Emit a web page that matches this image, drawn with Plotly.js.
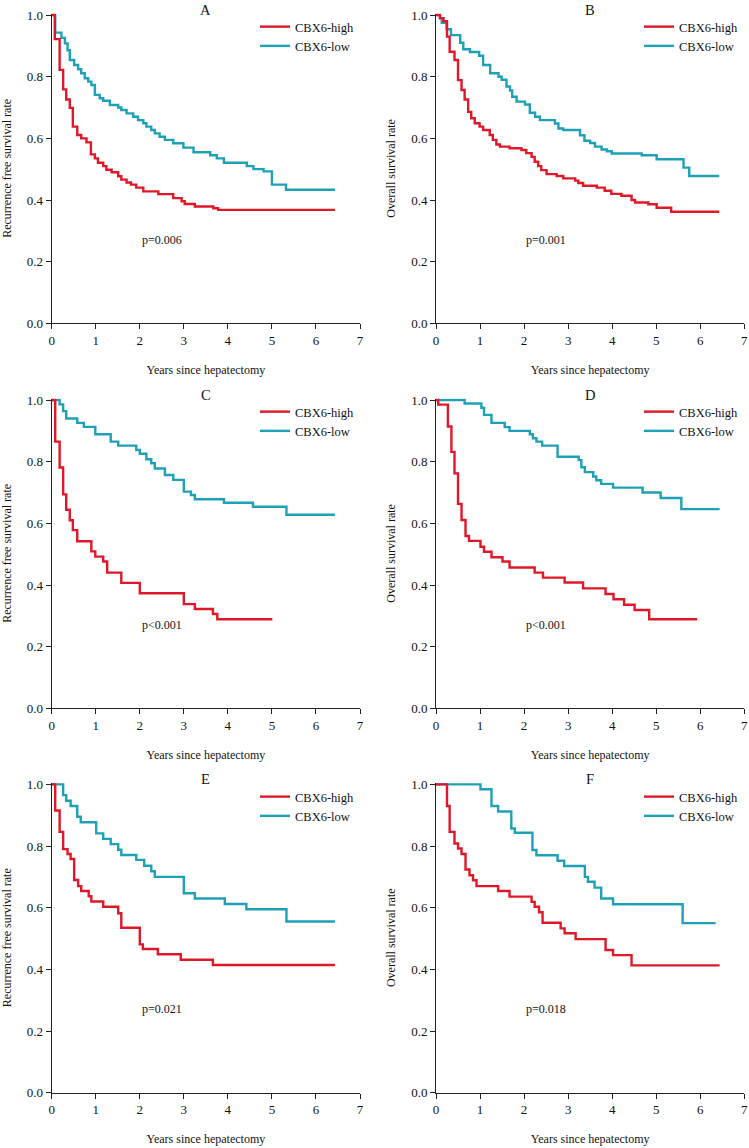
<!DOCTYPE html>
<html>
<head>
<meta charset="utf-8">
<script src="https://cdn.plot.ly/plotly-3.0.1.min.js"></script>
<style>
  body { margin: 0; background: #fff; }
  #plot { width: 749px; height: 1148px; }
</style>
</head>
<body>
<div id="plot"></div>
<script>
// Kaplan-Meier step points (time in years, survival)
var aHighT = [0, 0.07, 0.18, 0.26, 0.33, 0.41, 0.48, 0.58, 0.67, 0.79, 0.89, 0.98, 1.05, 1.17, 1.24, 1.36, 1.51, 1.58, 1.70, 1.80, 1.92, 2.08, 2.42, 2.76, 2.95, 3.02, 3.25, 3.67, 3.78, 6.43];
var aHighS = [1, 0.922, 0.822, 0.759, 0.726, 0.699, 0.638, 0.611, 0.600, 0.587, 0.548, 0.535, 0.521, 0.510, 0.498, 0.490, 0.477, 0.466, 0.457, 0.450, 0.440, 0.428, 0.419, 0.406, 0.396, 0.387, 0.379, 0.373, 0.368, 0.368];
var aLowT = [0, 0.08, 0.22, 0.30, 0.36, 0.41, 0.51, 0.60, 0.67, 0.75, 0.83, 0.90, 0.98, 1.09, 1.17, 1.32, 1.51, 1.58, 1.70, 1.85, 1.96, 2.08, 2.15, 2.26, 2.34, 2.45, 2.57, 2.76, 2.99, 3.22, 3.60, 3.75, 3.91, 4.43, 4.58, 4.81, 5.0, 5.32, 6.43];
var aLowS = [1, 0.943, 0.926, 0.908, 0.886, 0.854, 0.838, 0.824, 0.811, 0.795, 0.784, 0.773, 0.741, 0.730, 0.722, 0.708, 0.700, 0.692, 0.681, 0.670, 0.659, 0.649, 0.638, 0.627, 0.616, 0.605, 0.595, 0.584, 0.570, 0.555, 0.545, 0.535, 0.521, 0.510, 0.500, 0.493, 0.450, 0.433, 0.433];

var bHighT = [0, 0.09, 0.17, 0.25, 0.31, 0.42, 0.50, 0.58, 0.65, 0.73, 0.80, 0.88, 0.99, 1.07, 1.22, 1.29, 1.37, 1.45, 1.67, 1.94, 2.05, 2.17, 2.24, 2.32, 2.39, 2.51, 2.74, 2.89, 3.16, 3.23, 3.34, 3.65, 3.83, 3.98, 4.21, 4.44, 4.52, 4.82, 5.01, 5.34, 6.43];
var bHighS = [1, 0.99, 0.98, 0.93, 0.881, 0.854, 0.789, 0.757, 0.726, 0.686, 0.665, 0.649, 0.638, 0.627, 0.611, 0.595, 0.580, 0.573, 0.568, 0.562, 0.552, 0.540, 0.524, 0.510, 0.497, 0.484, 0.478, 0.470, 0.463, 0.455, 0.446, 0.440, 0.430, 0.420, 0.414, 0.400, 0.392, 0.386, 0.375, 0.362, 0.362];
var bLowT = [0, 0.09, 0.13, 0.24, 0.34, 0.55, 0.62, 0.77, 0.98, 1.07, 1.23, 1.42, 1.49, 1.60, 1.68, 1.73, 1.83, 2.02, 2.13, 2.25, 2.36, 2.70, 2.78, 2.89, 3.27, 3.37, 3.50, 3.61, 3.76, 3.88, 3.99, 4.67, 5.01, 5.62, 5.75, 6.43];
var bLowS = [1, 0.99, 0.975, 0.954, 0.935, 0.91, 0.889, 0.88, 0.868, 0.838, 0.811, 0.80, 0.79, 0.768, 0.755, 0.735, 0.719, 0.71, 0.683, 0.67, 0.659, 0.648, 0.632, 0.627, 0.61, 0.592, 0.585, 0.573, 0.564, 0.558, 0.551, 0.545, 0.532, 0.505, 0.478, 0.478];

var cHighT = [0, 0.08, 0.18, 0.26, 0.33, 0.41, 0.48, 0.58, 0.90, 0.99, 1.17, 1.26, 1.58, 2.0, 3.0, 3.25, 3.66, 3.76, 5.01];
var cHighS = [1, 0.865, 0.781, 0.694, 0.644, 0.610, 0.578, 0.542, 0.509, 0.492, 0.476, 0.440, 0.407, 0.373, 0.338, 0.322, 0.306, 0.289, 0.289];
var cLowT = [0, 0.18, 0.26, 0.33, 0.58, 0.73, 0.99, 1.34, 1.51, 1.92, 2.0, 2.15, 2.26, 2.34, 2.57, 2.76, 3.0, 3.16, 3.25, 3.91, 4.57, 5.33, 6.43];
var cLowS = [1, 0.986, 0.964, 0.940, 0.926, 0.913, 0.889, 0.865, 0.852, 0.838, 0.826, 0.808, 0.795, 0.778, 0.757, 0.741, 0.703, 0.692, 0.678, 0.667, 0.654, 0.628, 0.628];

var dHighT = [0, 0.05, 0.27, 0.35, 0.42, 0.50, 0.58, 0.67, 0.75, 1.01, 1.09, 1.26, 1.51, 1.67, 2.24, 2.43, 2.92, 3.34, 3.85, 4.03, 4.27, 4.51, 4.84, 5.93];
var dHighS = [1, 0.985, 0.914, 0.832, 0.762, 0.663, 0.611, 0.559, 0.543, 0.524, 0.508, 0.490, 0.476, 0.457, 0.440, 0.424, 0.408, 0.389, 0.371, 0.354, 0.336, 0.319, 0.289, 0.289];
var dLowT = [0, 0.65, 1.03, 1.09, 1.26, 1.56, 1.67, 2.13, 2.20, 2.28, 2.41, 2.76, 3.24, 3.30, 3.38, 3.57, 3.64, 3.75, 4.02, 4.69, 5.10, 5.57, 6.44];
var dLowS = [1, 0.989, 0.975, 0.952, 0.926, 0.912, 0.90, 0.889, 0.876, 0.865, 0.852, 0.816, 0.805, 0.782, 0.766, 0.752, 0.74, 0.728, 0.716, 0.70, 0.682, 0.646, 0.646];

var eHighT = [0, 0.08, 0.18, 0.26, 0.36, 0.43, 0.51, 0.60, 0.67, 0.84, 0.90, 1.17, 1.51, 1.58, 2.0, 2.07, 2.41, 2.93, 3.66, 6.43];
var eHighS = [1, 0.915, 0.846, 0.790, 0.774, 0.758, 0.690, 0.670, 0.654, 0.637, 0.620, 0.603, 0.582, 0.535, 0.481, 0.466, 0.449, 0.431, 0.414, 0.414];
var eLowT = [0, 0.26, 0.33, 0.43, 0.58, 0.66, 1.01, 1.17, 1.34, 1.51, 1.58, 1.92, 2.10, 2.26, 2.34, 3.0, 3.25, 3.93, 4.42, 5.33, 6.43];
var eLowS = [1, 0.965, 0.947, 0.930, 0.895, 0.877, 0.841, 0.823, 0.806, 0.788, 0.771, 0.755, 0.736, 0.718, 0.700, 0.647, 0.630, 0.612, 0.595, 0.555, 0.555];

var fHighT = [0, 0.25, 0.31, 0.42, 0.50, 0.58, 0.67, 0.76, 0.84, 0.92, 1.41, 1.67, 2.17, 2.24, 2.34, 2.42, 2.83, 2.92, 3.17, 3.85, 4.02, 4.44, 6.44];
var fHighS = [1, 0.930, 0.846, 0.808, 0.792, 0.774, 0.724, 0.705, 0.689, 0.670, 0.654, 0.636, 0.619, 0.603, 0.585, 0.551, 0.533, 0.517, 0.498, 0.463, 0.446, 0.413, 0.413];
var fLowT = [0, 1.01, 1.26, 1.41, 1.71, 1.79, 2.19, 2.28, 2.76, 2.91, 3.38, 3.45, 3.60, 3.75, 4.02, 5.60, 6.35];
var fLowS = [1, 0.984, 0.930, 0.912, 0.857, 0.843, 0.787, 0.770, 0.752, 0.735, 0.700, 0.684, 0.665, 0.630, 0.611, 0.550, 0.550];

var panelLetters = ["A", "B", "C", "D", "E", "F"];
var pValues = ["p=0.006", "p=0.001", "p<0.001", "p<0.001", "p=0.021", "p=0.018"];
var yTitles = ["Recurrence free survival rate", "Overall survival rate",
               "Recurrence free survival rate", "Overall survival rate",
               "Recurrence free survival rate", "Overall survival rate"];

var red = 'rgb(222,24,40)';
var teal = 'rgb(30,160,182)';
var serif = '"Liberation Serif", "Times New Roman", serif';

var panels = [
  [aHighT, aHighS, aLowT, aLowS],
  [bHighT, bHighS, bLowT, bLowS],
  [cHighT, cHighS, cLowT, cLowS],
  [dHighT, dHighS, dLowT, dLowS],
  [eHighT, eHighS, eLowT, eLowS],
  [fHighT, fHighS, fLowT, fLowS]
];

var W = 749, H = 1148;
// plot-area pixel boxes
var colX = [[51.7, 360], [436, 744.3]];
var rowY = [[13.5, 323.3], [398.5, 708.3], [782.8, 1092.7]];
var legTop = [12, 397, 782];
var legLeft = [255, 639];

var data = [];
var layout = {
  width: W,
  height: H,
  margin: {l: 0, r: 0, t: 0, b: 0},
  paper_bgcolor: 'white',
  plot_bgcolor: 'white',
  font: {family: serif, size: 12, color: '#111'},
  showlegend: true,
  annotations: []
};

panels.forEach(function (p, i) {
  var n = i + 1;
  var sfx = n === 1 ? '' : String(n);
  var lg = 'legend' + sfx;
  var col = i % 2, row = Math.floor(i / 2);

  // low drawn first so the red curve sits on top
  data.push({
    x: p[2], y: p[3], name: 'CBX6-low', type: 'scatter', mode: 'lines',
    line: {shape: 'hv', color: teal, width: 2.4},
    xaxis: 'x' + sfx, yaxis: 'y' + sfx, legend: lg, legendrank: 2
  });
  data.push({
    x: p[0], y: p[1], name: 'CBX6-high', type: 'scatter', mode: 'lines',
    line: {shape: 'hv', color: red, width: 2.4},
    xaxis: 'x' + sfx, yaxis: 'y' + sfx, legend: lg, legendrank: 1
  });

  layout['xaxis' + sfx] = {
    domain: [colX[col][0] / W, colX[col][1] / W],
    anchor: 'y' + sfx,
    range: [0, 7], dtick: 1,
    showline: true, linecolor: '#222', linewidth: 1,
    ticks: 'outside', ticklen: 5, tickcolor: '#222',
    showgrid: false, zeroline: false,
    tickfont: {family: serif, size: 13, color: '#111'},
    title: {text: 'Years since hepatectomy', font: {family: serif, size: 12, color: '#111'}, standoff: 18}
  };
  layout['yaxis' + sfx] = {
    domain: [1 - rowY[row][1] / H, 1 - rowY[row][0] / H],
    anchor: 'x' + sfx,
    range: [0, 1.005], tickvals: [0, 0.2, 0.4, 0.6, 0.8, 1.0], tickformat: '.1f',
    showline: true, linecolor: '#222', linewidth: 1,
    ticks: 'outside', ticklen: 5, tickcolor: '#222',
    showgrid: false, zeroline: false,
    tickfont: {family: serif, size: 13, color: '#111'},
    title: {text: yTitles[i], font: {family: serif, size: 12, color: '#111'}, standoff: 12}
  };
  layout[lg] = {
    x: legLeft[col] / W, xanchor: 'left',
    y: 1 - legTop[row] / H, yanchor: 'top',
    bgcolor: 'rgba(0,0,0,0)', borderwidth: 0,
    font: {family: serif, size: 12.5, color: '#111'},
    traceorder: 'normal'
  };

  layout.annotations.push({
    text: panelLetters[i], xref: 'x' + sfx + ' domain', yref: 'y' + sfx + ' domain',
    x: 0.5, y: 1, yanchor: 'bottom', yshift: -6.5, showarrow: false,
    font: {family: serif, size: 14.5, color: '#111'}
  });
  layout.annotations.push({
    text: pValues[i], xref: 'x' + sfx, yref: 'y' + sfx,
    x: 2.5, y: 0.27, showarrow: false,
    font: {family: serif, size: 12, color: '#111'}
  });
});

Plotly.newPlot('plot', data, layout, {staticPlot: true});
</script>
</body>
</html>
